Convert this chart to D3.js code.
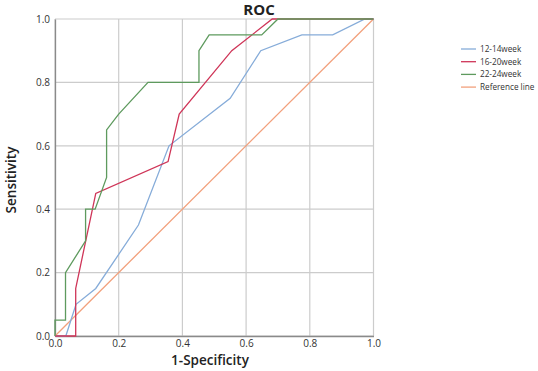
<!DOCTYPE html>
<html>
<head>
<meta charset="utf-8">
<script src="https://cdn.jsdelivr.net/npm/d3@7"></script>
<style>
  body { margin: 0; background: #fff; }
  text { font-family: "Open Sans", "Noto Sans", sans-serif; }
</style>
</head>
<body>
<svg id="chart"></svg>
<script>
// ROC curves (x = 1-specificity, y = sensitivity)
const seriesNames = ["12-14week", "16-20week", "22-24week", "Reference line"];
const seriesColors = ["#86acd9", "#cf3558", "#5e9a5e", "#f2a07c"];

const roc1214 = [[0, 0], [0.034, 0], [0.066, 0.1], [0.128, 0.15], [0.262, 0.35], [0.358, 0.6],
  [0.55, 0.75], [0.646, 0.9], [0.775, 0.95], [0.872, 0.95], [0.973, 1], [1, 1]];
const roc1620 = [[0, 0], [0.065, 0], [0.065, 0.15], [0.128, 0.45], [0.355, 0.55], [0.39, 0.7],
  [0.555, 0.9], [0.682, 1], [1, 1]];
const roc2224 = [[0, 0], [0, 0.05], [0.033, 0.05], [0.033, 0.2], [0.096, 0.3], [0.096, 0.4],
  [0.126, 0.4], [0.162, 0.5], [0.162, 0.65], [0.2, 0.7], [0.292, 0.8], [0.452, 0.8],
  [0.452, 0.9], [0.484, 0.95], [0.649, 0.95], [0.7, 1], [1, 1]];
const refLine = [[0, 0], [1, 1]];

const tickValues = [0, 0.2, 0.4, 0.6, 0.8, 1.0];

const W = 538, H = 371;
const margin = { top: 19, right: 165, bottom: 35, left: 55 };
const width = 373.5 - margin.left;
const height = 336 - margin.top;

const svg = d3.select("#chart")
    .attr("width", W)
    .attr("height", H);

const g = svg.append("g")
    .attr("transform", "translate(" + margin.left + "," + margin.top + ")");

const x = d3.scaleLinear().domain([0, 1]).range([0, width]);
const y = d3.scaleLinear().domain([0, 1]).range([height, 0]);

// grid
g.append("g")
    .selectAll("line")
    .data(tickValues)
    .join("line")
    .attr("x1", d => x(d)).attr("x2", d => x(d))
    .attr("y1", 0).attr("y2", height)
    .attr("stroke", "#cccccc").attr("stroke-width", 1.2);

g.append("g")
    .selectAll("line")
    .data(tickValues)
    .join("line")
    .attr("x1", 0).attr("x2", width)
    .attr("y1", d => y(d)).attr("y2", d => y(d))
    .attr("stroke", "#cccccc").attr("stroke-width", 1.2);

// axes
const xAxis = g.append("g")
    .attr("transform", "translate(0," + height + ")")
    .call(d3.axisBottom(x).tickValues(tickValues).tickFormat(d3.format(".1f")).tickSize(0).tickPadding(4));
const yAxis = g.append("g")
    .call(d3.axisLeft(y).tickValues(tickValues).tickFormat(d3.format(".1f")).tickSize(0).tickPadding(5));

[xAxis, yAxis].forEach(a => {
    a.select(".domain").attr("stroke", "#8a8a8a").attr("stroke-width", 1.3);
    a.selectAll("text").attr("font-size", 10).attr("fill", "#333").attr("font-family", "Open Sans, sans-serif");
});

// curves
const line = d3.line()
    .x(d => x(d[0]))
    .y(d => y(d[1]));

const allSeries = [roc1214, roc1620, roc2224, refLine];
const drawOrder = [3, 0, 1, 2];
drawOrder.forEach(i => {
    g.append("path")
        .datum(allSeries[i])
        .attr("fill", "none")
        .attr("stroke", seriesColors[i])
        .attr("stroke-width", 1.3)
        .attr("d", line);
});

// title and axis labels
svg.append("text")
    .attr("x", 259).attr("y", 15)
    .attr("text-anchor", "middle")
    .attr("font-size", 15).attr("font-weight", "bold")
    .attr("fill", "#222")
    .text("ROC");

svg.append("text")
    .attr("x", 210).attr("y", 365)
    .attr("text-anchor", "middle")
    .attr("font-size", 13.5)
    .attr("font-weight", 600)
    .attr("fill", "#222")
    .text("1-Specificity");

svg.append("text")
    .attr("transform", "translate(16,180) rotate(-90)")
    .attr("text-anchor", "middle")
    .attr("font-size", 13.5)
    .attr("font-weight", 600)
    .attr("fill", "#222")
    .text("Sensitivity");

// legend
const legend = svg.append("g").attr("transform", "translate(461,49)");
const rows = legend.selectAll("g")
    .data(seriesNames)
    .join("g")
    .attr("transform", (d, i) => "translate(0," + i * 12.7 + ")");
rows.append("line")
    .attr("x1", 0).attr("x2", 15)
    .attr("stroke", (d, i) => seriesColors[i])
    .attr("stroke-width", 1.3);
rows.append("text")
    .attr("x", 19).attr("y", 3)
    .attr("font-size", 8.2)
    .attr("fill", "#333")
    .text(d => d);
</script>
</body>
</html>
